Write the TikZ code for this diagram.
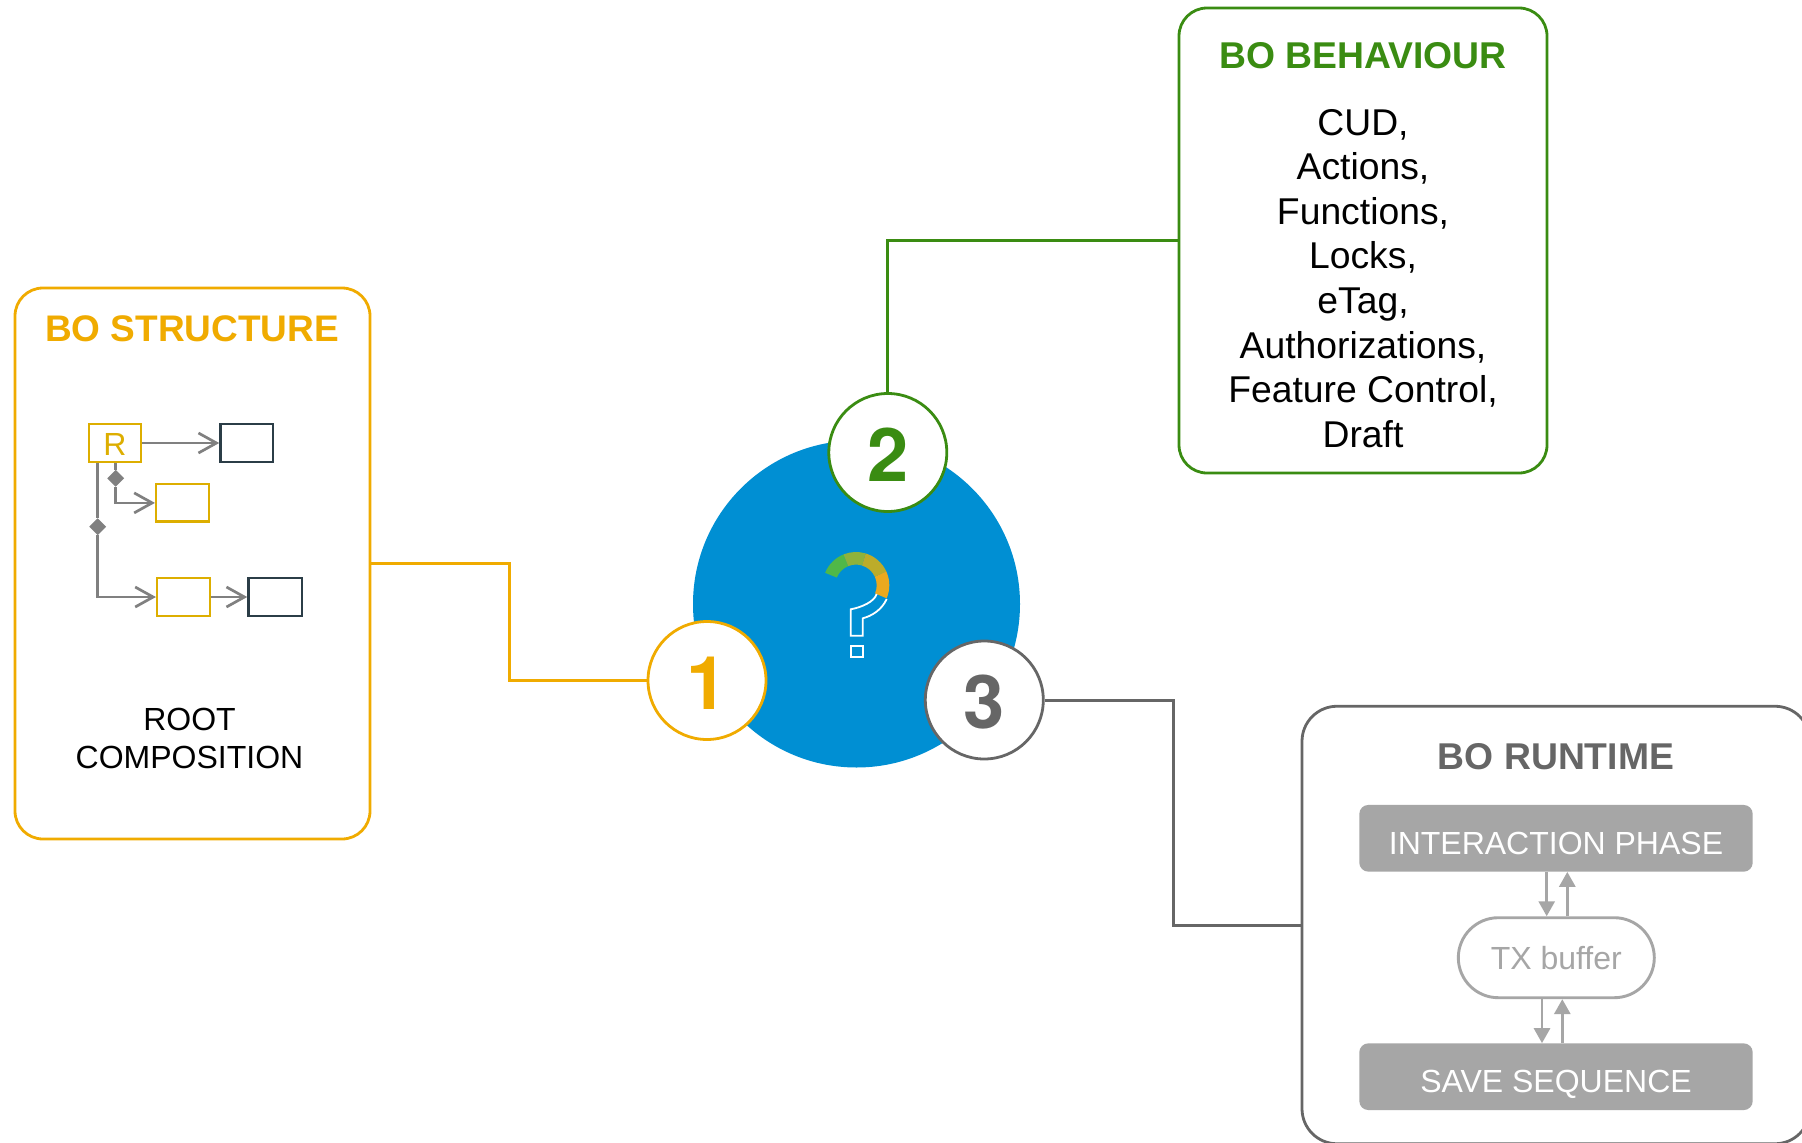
\documentclass[tikz,border=0pt]{standalone}
\usepackage{fontspec}
\setmainfont{Liberation Sans}
\newfontfamily\digitfont{TeX Gyre Heros}
\usetikzlibrary{arrows.meta,shapes.misc,shapes.geometric}
\definecolor{cOrange}{HTML}{F0AB00}
\definecolor{cGreen}{HTML}{3A8C12}
\definecolor{cGrey}{HTML}{666666}
\definecolor{cBlue}{HTML}{008FD3}
\definecolor{cYel}{HTML}{DDAE00}
\definecolor{cDark}{HTML}{2B3D47}
\definecolor{cLine}{HTML}{808080}
\definecolor{cLight}{HTML}{A6A6A6}
\definecolor{qA}{HTML}{50B848}
\definecolor{qB}{HTML}{8FB23B}
\definecolor{qC}{HTML}{BCAC2A}
\definecolor{qD}{HTML}{EBA91E}
\newcommand{\qseg}[3]{\fill[#1] (#2:33.3) arc[start angle=#2,end angle=#3,radius=33.3] -- (#3:20.7) arc[start angle=#3,end angle=#2,radius=20.7] -- cycle;}
\tikzset{
 panel/.style={draw,line width=2.8pt,rounded corners=28pt,fill=white,inner sep=0pt},
 badge/.style={circle,draw,line width=2.8pt,fill=white,minimum size=118pt,inner sep=0pt,text height=57pt,text depth=0pt,font=\digitfont\fontsize{74}{74}\selectfont\bfseries},
 title/.style={inner sep=0pt,anchor=base,font=\fontsize{37.3}{37.3}\selectfont\bfseries},
 body/.style={inner sep=0pt,align=center,text=black},
 mini/.style={draw,line width=2.3pt,inner sep=0pt,fill=white},
 link/.style={line width=3pt},
 stem/.style={draw=cLine,line width=2.7pt},
 umlarrow/.style={draw=cLine,line width=2.7pt,-{Straight Barb[length=18pt,width=20pt,line width=2.7pt]}},
 phase/.style={fill=cLight,rounded corners=9pt,inner sep=0pt,text=white,font=\fontsize{32}{32}\selectfont,text height=32.2pt,text depth=0pt,minimum width=393.4pt,minimum height=66.7pt},
 flow/.style={draw=cLight,line width=2.9pt,-{Triangle[length=15pt,width=16pt]}},
 dmd/.style={diamond,fill=cLine,inner sep=0pt,minimum width=17pt,minimum height=17pt},
}
\begin{document}
\begin{tikzpicture}[x=1pt,y=-1pt]
\useasboundingbox (0,0) rectangle (1802,1143);
\clip (0,0) rectangle (1802,1143);
% panels
\node[panel,draw=cOrange,minimum width=355pt,minimum height=551pt] (s) at (192.5,563.5) {};
\node[panel,draw=cGreen,minimum width=368pt,minimum height=465pt] (b) at (1363,240.5) {};
\node[panel,draw=cGrey,rounded corners=35pt,minimum width=508pt,minimum height=437.5pt] (r) at (1556,925) {};
% main circle
\node[circle,fill=cBlue,minimum size=327pt,inner sep=0pt] (m) at (856.5,604) {};
% question mark
\begin{scope}[shift={(856,585.3)},y=1pt]
\qseg{qA}{158}{112}
\qseg{qB}{112}{73}
\qseg{qC}{73}{24.5}
\qseg{qD}{24.5}{-23}
\end{scope}
\draw[white,line width=1.8pt] (876.7,594) .. controls (874.3,601.7) and (861.7,607.3) .. (850.7,609.3) -- (850.7,635.7) -- (862.7,635.7) -- (862.7,618.3) .. controls (871.7,616) and (881.7,610) .. (886.7,599);
\draw[white,line width=1.8pt] (850.7,646) rectangle (862.7,657.3);
% connectors
\coordinate (j1) at (509,680.5);
\coordinate (j3) at (1173,700);
\node[badge,draw=cOrange,text=cOrange] (one) at (707,680.5) {1};
\node[badge,draw=cGreen,text=cGreen] (two) at (887.8,452.5) {2};
\node[badge,draw=cGrey,text=cGrey] (three) at (984.3,700) {3};
\draw[link,cOrange] (s.east) -| (j1) -- (one.west);
\draw[link,cGreen] (two.north) |- (b.west);
\draw[link,cGrey] (three.east) -- (j3) |- (r.west);
% structure panel
\node[title,text=cOrange,font=\fontsize{37}{37}\selectfont\bfseries] (st) at (192,341) {BO STRUCTURE};
\node[mini,draw=cYel,text=cYel,minimum width=52.6pt,minimum height=38.4pt,text height=24pt,text depth=0pt,font=\fontsize{32}{32}\selectfont] (root) at (115,443) {R};
\node[mini,draw=cDark,minimum width=52.6pt,minimum height=38.4pt] (d1) at (246.7,443) {};
\node[mini,draw=cYel,minimum width=52.6pt,minimum height=37.2pt] (y2) at (182.4,502.9) {};
\node[mini,draw=cYel,minimum width=52.6pt,minimum height=37.4pt] (y3) at (183.4,597) {};
\node[mini,draw=cDark,minimum width=53.6pt,minimum height=37.4pt] (d3) at (275.2,597) {};
\node[dmd] (k1) at (115.7,478.3) {};
\node[dmd] (k2) at (97.7,526.7) {};
\draw[umlarrow] (root.east) -- (d1.west);
\draw[stem] (root.south -| k1) -- (k1);
\draw[umlarrow] (k1) |- (y2.west);
\draw[stem] (root.south -| k2) -- (k2);
\draw[umlarrow] (k2) |- (y3.west);
\draw[umlarrow] (y3.east) -- (d3.west);
\node[body,font=\fontsize{32}{38}\selectfont] (rc) at (189.5,738) {ROOT\\COMPOSITION};
% behaviour panel
\node[title,text=cGreen] (bt) at (1363,68) {BO BEHAVIOUR};
\node[body,font=\fontsize{37.3}{44.6}\selectfont] (bl) at (1363,278.4) {CUD,\\Actions,\\Functions,\\Locks,\\eTag,\\Authorizations,\\Feature Control,\\Draft};
% runtime panel
\node[title,text=cGrey] (rt) at (1556,769) {BO RUNTIME};
\node[phase] (ip) at (1556,838.3) {INTERACTION PHASE};
\node[phase] (ss) at (1556,1076.7) {SAVE SEQUENCE};
\node[rounded rectangle,draw=cLight,line width=2.9pt,fill=white,text=cLight,minimum width=196pt,minimum height=80pt,inner sep=0pt,font=\fontsize{32}{32}\selectfont] (tx) at (1556.3,957.7) {TX buffer};
\draw[flow] ([xshift=-9.3pt]ip.south) -- ([xshift=-9.6pt]tx.north);
\draw[flow] ([xshift=11pt]tx.north) -- ([xshift=11.3pt]ip.south);
\draw[flow] ([xshift=-14.3pt]tx.south) -- ([xshift=-14pt]ss.north);
\draw[flow] ([xshift=6.3pt]ss.north) -- ([xshift=6pt]tx.south);
\end{tikzpicture}
\end{document}
